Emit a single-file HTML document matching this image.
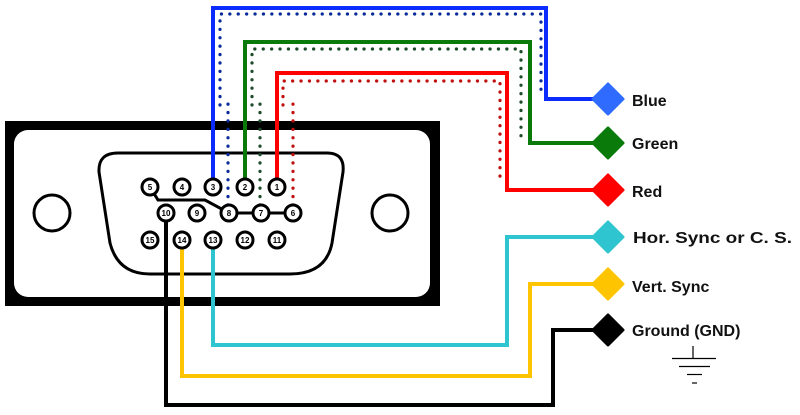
<!DOCTYPE html>
<html><head><meta charset="utf-8"><style>
html,body{margin:0;padding:0;background:#fff;}
svg{display:block}
text{font-family:"Liberation Sans",sans-serif;font-weight:bold;}
</style></head><body>
<svg width="800" height="415" viewBox="0 0 800 415" xmlns="http://www.w3.org/2000/svg">
<rect x="0" y="0" width="800" height="415" fill="#fff"/>
<rect x="5" y="121" width="435" height="185" fill="#000"/>
<rect x="14" y="130" width="416" height="167" rx="14" fill="#fff"/>
<circle cx="52" cy="213" r="18" fill="none" stroke="#000" stroke-width="3"/>
<circle cx="390" cy="213" r="18" fill="none" stroke="#000" stroke-width="3"/>
<path d="M118,153 L327,153 Q345,153 343,172 L332,243 Q326,274 290,274 L150,274 Q118,274 110,243 L99,172 Q98,153 118,153 Z" fill="none" stroke="#000" stroke-width="3"/>

<g fill="none" stroke-width="3.2" stroke-linecap="round" stroke-dasharray="0.1 8.3">
<path d="M220,105 L220,14 L541,14 L541,92" stroke="#0a2a9a"/>
<path d="M228,205 L228,102" stroke="#0a2a9a"/>
<path d="M252,105 L252,49 L521,49 L521,143" stroke="#1d4a2a"/>
<path d="M260,205 L260,102" stroke="#1d4a2a"/>
<path d="M283,105 L283,81 L500,81 L500,182" stroke="#c01010"/>
<path d="M293,205 L293,102" stroke="#c01010"/>
</g>

<g fill="none" stroke-width="4">
<path d="M213,180 L213,8 L546,8 L546,99 L608,99" stroke="#0b2bff"/>
<path d="M245,180 L245,42 L530,42 L530,143 L608,143" stroke="#0a7a0a"/>
<path d="M277,180 L277,73 L507,73 L507,190 L608,190" stroke="#ff0000"/>
<path d="M213,248 L213,345 L507,345 L507,237 L608,237" stroke="#2ec4d0"/>
<path d="M182,248 L182,376 L530,376 L530,284 L608,284" stroke="#ffc400"/>
<path d="M166,221 L166,405 L553,405 L553,330 L608,330" stroke="#000"/>
</g>
<path d="M150,187 L158,200 L205,200 L229,213 L293,213" fill="none" stroke="#000" stroke-width="3"/>

<g font-size="8" text-anchor="middle" fill="#000">
<g stroke="#000" stroke-width="3" fill="#fff">
<circle cx="150" cy="187" r="8"/><circle cx="182" cy="187" r="8"/><circle cx="213" cy="187" r="8"/><circle cx="245" cy="187" r="8"/><circle cx="277" cy="187" r="8"/>
<circle cx="166" cy="213" r="8"/><circle cx="197" cy="213" r="8"/><circle cx="229" cy="213" r="8"/><circle cx="261" cy="213" r="8"/><circle cx="293" cy="213" r="8"/>
<circle cx="150" cy="240" r="8"/><circle cx="182" cy="240" r="8"/><circle cx="213" cy="240" r="8"/><circle cx="245" cy="240" r="8"/><circle cx="277" cy="240" r="8"/>
</g>
<text x="150" y="190">5</text><text x="182" y="190">4</text><text x="213" y="190">3</text><text x="245" y="190">2</text><text x="277" y="190">1</text>
<text x="166" y="216">10</text><text x="197" y="216">9</text><text x="229" y="216">8</text><text x="261" y="216">7</text><text x="293" y="216">6</text>
<text x="150" y="243">15</text><text x="182" y="243">14</text><text x="213" y="243">13</text><text x="245" y="243">12</text><text x="277" y="243">11</text>
</g>

<g stroke-linejoin="round" stroke-width="3">
<path d="M608,84 L623,99 L608,114 L593,99 Z" fill="#2f6bff" stroke="#2f6bff"/>
<path d="M608,128 L623,143 L608,158 L593,143 Z" fill="#0a7a0a" stroke="#0a7a0a"/>
<path d="M608,175 L623,190 L608,205 L593,190 Z" fill="#ff0000" stroke="#ff0000"/>
<path d="M608,222 L623,237 L608,252 L593,237 Z" fill="#2ec4d0" stroke="#2ec4d0"/>
<path d="M608,269 L623,284 L608,299 L593,284 Z" fill="#ffc400" stroke="#ffc400"/>
<path d="M608,315 L623,330 L608,345 L593,330 Z" fill="#000" stroke="#000"/>
</g>

<g font-size="16" fill="#111">
<text x="632" y="106">Blue</text>
<text x="632" y="149">Green</text>
<text x="632" y="197">Red</text>
<text x="633" y="243" textLength="159" lengthAdjust="spacingAndGlyphs">Hor. Sync or C. S.</text>
<text x="632" y="292">Vert. Sync</text>
<text x="632" y="336">Ground (GND)</text>
</g>
<g stroke="#000" stroke-width="1.2">
<line x1="693" y1="346" x2="693" y2="358"/>
<line x1="672" y1="358.5" x2="716" y2="358.5"/>
<line x1="679" y1="366.5" x2="710" y2="366.5"/>
<line x1="687" y1="374.5" x2="702" y2="374.5"/>
<line x1="692" y1="383" x2="697" y2="383"/>
</g>
</svg>
</body></html>
